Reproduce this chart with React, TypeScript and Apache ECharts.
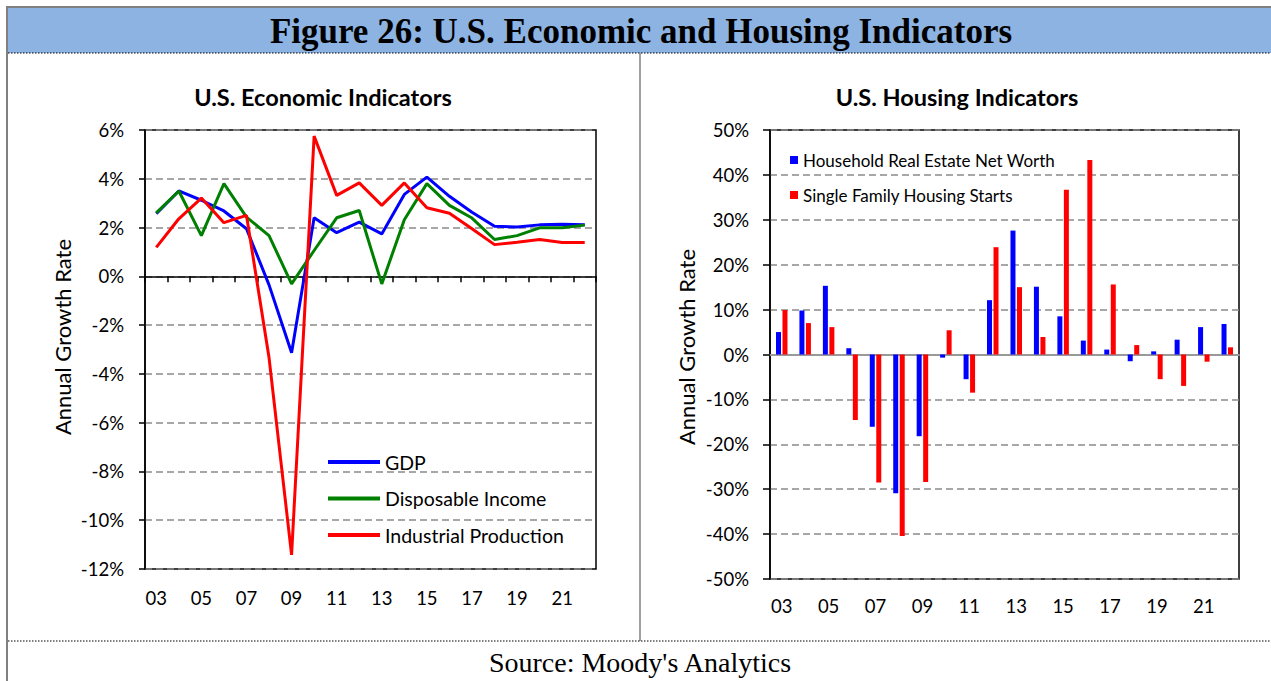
import React, { useEffect, useRef } from 'react';
import * as echarts from 'echarts';

const years = ['03', '04', '05', '06', '07', '08', '09', '10', '11', '12', '13', '14', '15', '16', '17', '18', '19', '20', '21', '22'];

const gdp = [2.57, 3.5, 3.12, 2.68, 1.95, -0.35, -3.13, 2.4, 1.79, 2.22, 1.74, 3.36, 4.07, 3.28, 2.63, 2.05, 2.02, 2.11, 2.14, 2.11];
const disposableIncome = [2.6, 3.5, 1.67, 3.8, 2.43, 1.67, -0.31, 1.06, 2.4, 2.7, -0.31, 2.32, 3.8, 2.91, 2.39, 1.51, 1.67, 1.99, 1.99, 2.1];
const industrialProduction = [1.19, 2.36, 3.21, 2.2, 2.5, -3.33, -11.42, 5.75, 3.32, 3.83, 2.91, 3.83, 2.81, 2.59, 1.95, 1.3, 1.4, 1.51, 1.39, 1.39];

const realEstateNetWorth = [5.0, 9.8, 15.3, 1.4, -16.1, -30.9, -18.2, -0.7, -5.5, 12.1, 27.6, 15.1, 8.5, 3.1, 1.1, -1.5, 0.7, 3.3, 6.1, 6.8];
const housingStarts = [9.9, 7.0, 6.1, -14.6, -28.5, -40.4, -28.4, 5.4, -8.5, 23.9, 15.0, 3.9, 36.7, 43.3, 15.6, 2.1, -5.5, -7.0, -1.6, 1.6];

const FONT = 'Lato';
const gridLine = { show: true, lineStyle: { color: '#8a8a8a', width: 1.5, type: [7, 4] as any } };
const LABEL_SIZE = 18.5;

export default function App() {
  const ref = useRef<HTMLDivElement>(null);
  useEffect(() => {
    if (!ref.current) return;
    const chart = echarts.init(ref.current, null, { renderer: 'svg' });
    const option: any = {
      animation: false,
      backgroundColor: '#ffffff',
      textStyle: { fontFamily: FONT },
      graphic: [
        { type: 'rect', shape: { x: 8, y: 8, width: 1263, height: 45 }, style: { fill: '#8DB3E2' }, silent: true },
        { type: 'line', shape: { x1: 6, y1: 7, x2: 1271, y2: 7 }, style: { stroke: '#808080', lineWidth: 2 } },
        { type: 'line', shape: { x1: 7, y1: 6, x2: 7, y2: 681 }, style: { stroke: '#808080', lineWidth: 2 } },
        { type: 'line', shape: { x1: 8, y1: 53, x2: 1271, y2: 53 }, style: { stroke: '#000', lineWidth: 1, lineDash: [1.5, 1.5] } },
        { type: 'line', shape: { x1: 640, y1: 53, x2: 640, y2: 641 }, style: { stroke: '#808080', lineWidth: 1.5 } },
        { type: 'line', shape: { x1: 8, y1: 641, x2: 1271, y2: 641 }, style: { stroke: '#000', lineWidth: 1, lineDash: [1.5, 1.5] } },
        {
          type: 'text', x: 641, y: 31,
          style: { text: 'Figure 26: U.S. Economic and Housing Indicators', align: 'center', verticalAlign: 'middle', fontSize: 35, fontWeight: 'bold', fontFamily: 'Liberation Serif', fill: '#000' },
        },
        {
          type: 'text', x: 640, y: 662,
          style: { text: "Source: Moody's Analytics", align: 'center', verticalAlign: 'middle', fontSize: 28, fontFamily: 'Liberation Serif', fill: '#000' },
        },
        {
          type: 'text', x: 323, y: 97,
          style: { text: 'U.S. Economic Indicators', align: 'center', verticalAlign: 'middle', fontSize: 23.5, fontWeight: 'bold', fontFamily: FONT, fill: '#000' },
        },
        {
          type: 'text', x: 957, y: 97,
          style: { text: 'U.S. Housing Indicators', align: 'center', verticalAlign: 'middle', fontSize: 23.5, fontWeight: 'bold', fontFamily: FONT, fill: '#000' },
        },
        {
          type: 'text', x: 62, y: 337, rotation: Math.PI / 2,
          style: { text: 'Annual Growth Rate', align: 'center', verticalAlign: 'middle', fontSize: 22, fontFamily: FONT, fill: '#000' },
        },
        {
          type: 'text', x: 686, y: 347, rotation: Math.PI / 2,
          style: { text: 'Annual Growth Rate', align: 'center', verticalAlign: 'middle', fontSize: 22, fontFamily: FONT, fill: '#000' },
        },
      ],
      legend: [
        {
          data: ['GDP', 'Disposable Income', 'Industrial Production'],
          orient: 'vertical', left: 328, top: 451, padding: 0, icon: 'rect', itemWidth: 52, itemHeight: 4, itemGap: 14.5,
          textStyle: { fontSize: 19.5, lineHeight: 22, color: '#000', fontFamily: FONT },
        },
        {
          data: ['Household Real Estate Net Worth', 'Single Family Housing Starts'],
          orient: 'vertical', left: 790, top: 150, padding: 0, icon: 'rect', itemWidth: 8, itemHeight: 8, itemGap: 15,
          textStyle: { fontSize: 17, lineHeight: 20, color: '#000', fontFamily: FONT },
        },
      ],
      grid: [
        { left: 145, top: 130, width: 451, height: 439, show: true, borderColor: '#000', borderWidth: 1.5, backgroundColor: 'transparent' },
        { left: 770, top: 130, width: 469, height: 449, show: true, borderColor: '#000', borderWidth: 1.5, backgroundColor: 'transparent' },
      ],
      xAxis: [
        {
          gridIndex: 0, type: 'category', data: years, position: 'bottom',
          axisLine: { show: false, onZero: false }, axisTick: { show: false },
          axisLabel: { interval: 1, margin: 19, fontSize: LABEL_SIZE, color: '#000', fontFamily: FONT },
        },
        {
          gridIndex: 0, type: 'category', data: years, position: 'bottom',
          axisLine: { show: true, onZero: true, lineStyle: { color: '#000', width: 1.5 } },
          axisTick: { show: true, interval: 0, length: 6, lineStyle: { color: '#000', width: 1.5 } },
          axisLabel: { show: false },
        },
        {
          gridIndex: 1, type: 'category', data: years, position: 'bottom',
          axisLine: { show: false, onZero: false }, axisTick: { show: false },
          axisLabel: { interval: 1, margin: 17, fontSize: LABEL_SIZE, color: '#000', fontFamily: FONT },
        },
        {
          gridIndex: 1, type: 'category', data: years, position: 'bottom',
          axisLine: { show: true, onZero: true, lineStyle: { color: '#999', width: 2 } },
          axisTick: { show: false },
          axisLabel: { show: false },
        },
      ],
      yAxis: [
        {
          gridIndex: 0, type: 'value', min: -12, max: 6, interval: 2,
          axisLine: { show: true, lineStyle: { color: '#000', width: 1.5 } },
          axisTick: { show: true, length: 6, lineStyle: { color: '#000', width: 1.5 } },
          axisLabel: { formatter: '{value}%', margin: 21, fontSize: LABEL_SIZE, color: '#000', fontFamily: FONT },
          splitLine: gridLine,
        },
        {
          gridIndex: 1, type: 'value', min: -50, max: 50, interval: 10,
          axisLine: { show: true, lineStyle: { color: '#000', width: 1.5 } },
          axisTick: { show: true, length: 7, lineStyle: { color: '#000', width: 1.5 } },
          axisLabel: { formatter: '{value}%', margin: 21, fontSize: LABEL_SIZE, color: '#000', fontFamily: FONT },
          splitLine: gridLine,
        },
      ],
      series: [
        { name: 'GDP', type: 'line', xAxisIndex: 0, yAxisIndex: 0, data: gdp, symbol: 'none', color: '#0000FF', lineStyle: { width: 3 }, z: 3 },
        { name: 'Disposable Income', type: 'line', xAxisIndex: 0, yAxisIndex: 0, data: disposableIncome, symbol: 'none', color: '#008000', lineStyle: { width: 3 }, z: 4 },
        { name: 'Industrial Production', type: 'line', xAxisIndex: 0, yAxisIndex: 0, data: industrialProduction, symbol: 'none', color: '#FF0000', lineStyle: { width: 3 }, z: 5 },
        { name: 'Household Real Estate Net Worth', type: 'bar', xAxisIndex: 2, yAxisIndex: 1, data: realEstateNetWorth, color: '#0000FF', barWidth: 5, barGap: '30%' },
        { name: 'Single Family Housing Starts', type: 'bar', xAxisIndex: 2, yAxisIndex: 1, data: housingStarts, color: '#FF0000', barWidth: 5, barGap: '30%' },
      ],
    };
    chart.setOption(option);
    return () => chart.dispose();
  }, []);
  return <div ref={ref} style={{ position: 'fixed', left: 0, top: 0, width: 1271, height: 681, background: '#fff' }} />;
}
